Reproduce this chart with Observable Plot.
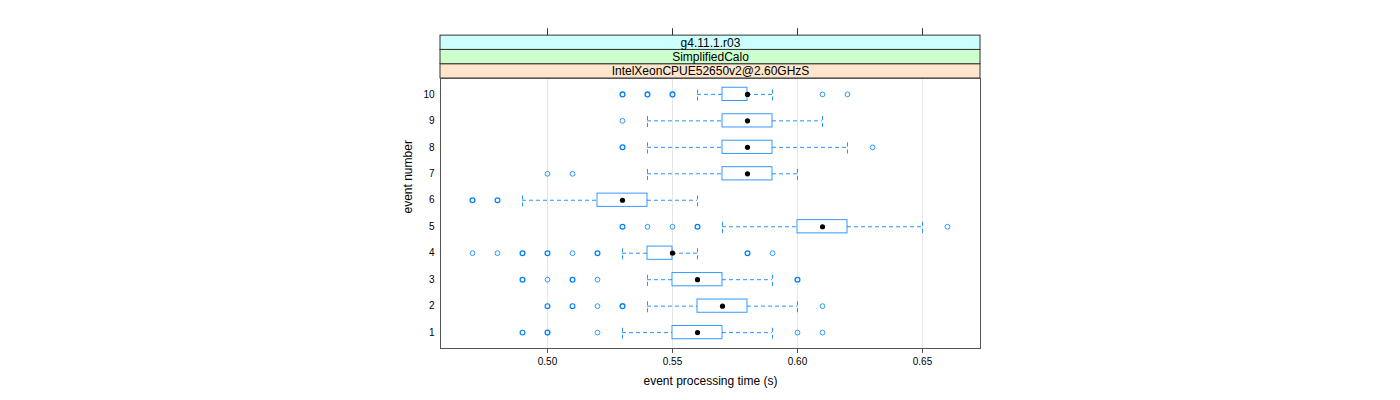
<!DOCTYPE html>
<html><head><meta charset="utf-8">
<script src="https://cdn.jsdelivr.net/npm/d3@7"></script>
<script src="https://cdn.jsdelivr.net/npm/@observablehq/plot@0.6"></script>
<style>body{margin:0;background:#fff;} #chart{width:1400px;height:400px;}</style>
</head><body><div id="chart"></div>
<script>
// ---- data ----
const events      = [1, 2, 3, 4, 5, 6, 7, 8, 9, 10];
const whiskerLow  = [0.53, 0.54, 0.54, 0.53, 0.57, 0.49, 0.54, 0.54, 0.54, 0.56];
const boxLow      = [0.55, 0.56, 0.55, 0.54, 0.60, 0.52, 0.57, 0.57, 0.57, 0.57];
const medians     = [0.56, 0.57, 0.56, 0.55, 0.61, 0.53, 0.58, 0.58, 0.58, 0.58];
const boxHigh     = [0.57, 0.58, 0.57, 0.55, 0.62, 0.54, 0.59, 0.59, 0.59, 0.58];
const whiskerHigh = [0.59, 0.60, 0.59, 0.56, 0.65, 0.56, 0.60, 0.62, 0.61, 0.59];

const outlierEvent = [1,1,1,1,1, 2,2,2,2,2, 3,3,3,3,3, 4,4,4,4,4,4,4,4, 5,5,5,5,5, 6,6, 7,7, 8,8, 9, 10,10,10,10,10];
const outlierTime  = [0.49,0.50,0.52,0.60,0.61, 0.50,0.51,0.52,0.53,0.61, 0.49,0.50,0.51,0.52,0.60,
                      0.47,0.48,0.49,0.50,0.51,0.52,0.58,0.59, 0.53,0.54,0.55,0.56,0.66, 0.47,0.48,
                      0.50,0.51, 0.53,0.63, 0.53, 0.53,0.54,0.55,0.61,0.62];
const outlierCount = [2,3,1,1,1, 2,2,1,3,1, 3,1,3,1,3, 1,1,3,3,1,3,3,1, 2,1,1,3,1, 3,2, 1,1, 3,1, 1, 3,3,3,1,1];

const xTicks = [0.50, 0.55, 0.60, 0.65];
const stripLabels = ["IntelXeonCPUE52650v2@2.60GHzS", "SimplifiedCalo", "g4.11.1.r03"];
const stripColors = ["#ffe5cc", "#ccffcc", "#ccffff"];

// ---- build tables ----
const rows = events.map((e, i) => ({
  event: e, wl: whiskerLow[i], bl: boxLow[i], med: medians[i], bh: boxHigh[i], wh: whiskerHigh[i]
}));
const outliers = outlierEvent.map((e, i) => ({event: e, t: outlierTime[i], n: outlierCount[i]}));

const xDomain = [0.4572, 0.6732];
const yDomain = [0.4, 10.6];
const stripH = 0.54;
const strips = stripLabels.map((s, i) => ({
  label: s, fill: stripColors[i],
  y1: yDomain[1] + i * stripH, y2: yDomain[1] + (i + 1) * stripH
}));
const stripTop = yDomain[1] + stripLabels.length * stripH;
const half = 0.25;
const blue = "#0080ff";

const chart = Plot.plot({
  width: 1400, height: 400,
  marginLeft: 440, marginRight: 420, marginTop: 78, marginBottom: 52,
  style: {fontFamily: "'Liberation Sans', Arial, sans-serif", fontSize: "10px", background: "white"},
  x: {domain: xDomain},
  y: {domain: yDomain},
  marks: [
    Plot.ruleX(xTicks, {stroke: "#e6e6e6"}),
    // whiskers
    Plot.ruleY(rows, {y: "event", x1: "wl", x2: "bl", stroke: blue, strokeOpacity: 0.85, strokeDasharray: "4,3"}),
    Plot.ruleY(rows, {y: "event", x1: "bh", x2: "wh", stroke: blue, strokeOpacity: 0.85, strokeDasharray: "4,3"}),
    Plot.ruleX(rows, {x: "wl", y1: d => d.event - half, y2: d => d.event + half, stroke: blue, strokeOpacity: 0.85, strokeDasharray: "4,3"}),
    Plot.ruleX(rows, {x: "wh", y1: d => d.event - half, y2: d => d.event + half, stroke: blue, strokeOpacity: 0.85, strokeDasharray: "4,3"}),
    // boxes
    Plot.rect(rows, {x1: "bl", x2: "bh", y1: d => d.event - half, y2: d => d.event + half, fill: "white", stroke: blue, strokeOpacity: 0.8}),
    Plot.dot(rows, {x: "med", y: "event", r: 2.6, fill: "black", stroke: "none"}),
    // outliers
    Plot.dot(outliers, {x: "t", y: "event", r: 2.4, stroke: blue, fill: "none",
      strokeWidth: d => d.n > 2 ? 1.3 : d.n > 1 ? 1.15 : 1, strokeOpacity: d => d.n > 1 ? 1 : 0.8}),
    // strips
    Plot.rect(strips, {x1: () => xDomain[0], x2: () => xDomain[1], y1: "y1", y2: "y2", fill: "fill", stroke: "#333"}),
    Plot.text(strips, {x: () => (xDomain[0] + xDomain[1]) / 2, y: d => (d.y1 + d.y2) / 2, text: "label", fontSize: 12, fill: "black"}),
    Plot.ruleX(xTicks, {y1: stripTop, y2: stripTop + 0.26, stroke: "#333"}),
    Plot.frame({stroke: "#555"}),
    Plot.axisX({ticks: xTicks, tickFormat: d3.format(".2f"), tickSize: 5, tickPadding: 4, fontSize: 10, label: null, stroke: "#555"}),
    Plot.axisY({ticks: events, tickFormat: d => String(d), tickSize: 0, tickPadding: 6, fontSize: 10, label: null}),
    Plot.text(["event processing time (s)"], {frameAnchor: "bottom", dy: 36, fontSize: 12}),
    Plot.text(["event number"], {frameAnchor: "left", dx: -32, rotate: -90, fontSize: 12})
  ]
});
document.getElementById("chart").appendChild(chart);
</script>
</body></html>
